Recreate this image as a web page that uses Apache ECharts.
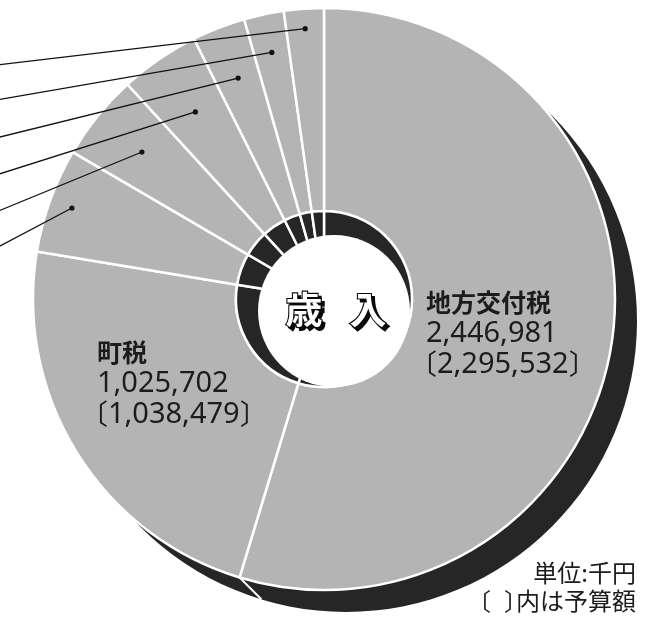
<!DOCTYPE html>
<html><head><meta charset="utf-8">
<script src="https://cdn.jsdelivr.net/npm/echarts@6/dist/echarts.min.js"></script>
<style>html,body{margin:0;padding:0;background:#fff}#c{width:653px;height:620px}</style>
</head><body><div id="c"></div>
<script>
// ---- data ----
const categories = ['地方交付税', '町税', '区分3', '区分4', '区分5', '区分6', '区分7', '区分8'];
const actualValues = [2446981, 1025702, 260000, 214000, 198000, 132000, 99000, 99000];
const budgetValues = [2295532, 1038479, null, null, null, null, null, null];
const centerTitle = ['歳', '入'];
const unitNote = '単位:千円';
const bracketNote = ['〔', '〕', '内は予算額'];

// ---- layout / style ----
const CX = 324, CY = 299, R = 291, R_IN = 88;
const HOLE = { cx: 334, cy: 311, r: 76 };
const SHADOW_OFF = [22, 22];
const labelPos = { 0: [409, 287], 1: [80, 337] };
const leaderDotR = [null, null, 268, 234, 227, 237, 252, 271];
const leaderEndY = [null, null, 248, 212, 175, 138, 100, 65];
const LEADER_END_X = -4;
const NOTE_RIGHT = 636, NOTE_FS = 24;
const GREY = '#b4b4b4', DARK = '#262626', INK = '#1c1c1c';
const CJK = '"Noto Sans CJK JP"';
const LATIN = '"Noto Sans", "Noto Sans CJK JP"';

const total = actualValues.reduce((a, b) => a + b, 0);
const cum = [];
actualValues.reduce((acc, v, i) => { cum[i] = acc; return acc + v; }, 0);
const fmt = v => (v == null ? '' : v.toLocaleString('en-US'));

const mainData = categories.map((name, i) => ({
  name, value: actualValues[i],
  label: { show: budgetValues[i] != null }
}));
const darkData = categories.map((name, i) => ({ name, value: actualValues[i] }));
const leaderData = [];
categories.forEach((n, i) => {
  if (leaderDotR[i] != null) leaderData.push([leaderDotR[i], cum[i] + actualValues[i] / 2, leaderEndY[i]]);
});
const edgeData = cum.map(c => [R, c]);

const titleStyle = {
  font: 'bold 37px ' + CJK, fill: '#fff', stroke: '#0a0a0a', lineWidth: 2.2,
  align: 'center', verticalAlign: 'middle',
  textShadowColor: '#0a0a0a', textShadowBlur: 0.6, textShadowOffsetX: 3, textShadowOffsetY: 3
};
// widths of the bracket-note tokens: open bracket, gap, close bracket, then the words
const NOTE_W = [NOTE_FS, 13, 12];
const noteLeft = NOTE_RIGHT - (NOTE_W[0] + NOTE_W[1] + NOTE_W[2] + bracketNote[2].length * NOTE_FS);

const chart = echarts.init(document.getElementById('c'), null, { renderer: 'canvas' });
chart.setOption({
  animation: false,
  backgroundColor: '#fff',
  polar: { center: [CX, CY], radius: R },
  angleAxis: { type: 'value', min: 0, max: total, startAngle: 90, clockwise: true, show: false,
    axisLine: { show: false }, axisTick: { show: false }, axisLabel: { show: false }, splitLine: { show: false } },
  radiusAxis: { type: 'value', min: 0, max: R, show: false,
    axisLine: { show: false }, axisTick: { show: false }, axisLabel: { show: false }, splitLine: { show: false } },
  series: [
    { // drop shadow (extrusion)
      type: 'pie', z: 1, silent: true, center: [CX + SHADOW_OFF[0], CY + SHADOW_OFF[1]], radius: [0, R],
      data: [{ value: 1 }], label: { show: false }, labelLine: { show: false },
      itemStyle: { color: DARK }, emphasis: { disabled: true }
    },
    { // extrusion side edges
      type: 'custom', coordinateSystem: 'polar', z: 2, silent: true, data: edgeData,
      renderItem: function (params, api) {
        const p = api.coord([api.value(0), api.value(1)]);
        return { type: 'line', shape: { x1: p[0], y1: p[1], x2: p[0] + SHADOW_OFF[0], y2: p[1] + SHADOW_OFF[1] },
          style: { stroke: '#fff', lineWidth: 2 } };
      }
    },
    { // main ring
      type: 'pie', z: 3, silent: true, center: [CX, CY], radius: [R_IN, R],
      startAngle: 90, clockwise: true, avoidLabelOverlap: false,
      data: mainData,
      itemStyle: { color: GREY, borderColor: '#fff', borderWidth: 2.5 },
      emphasis: { disabled: true },
      labelLine: { show: false },
      label: {
        position: 'inside', color: INK,
        formatter: p => budgetValues[p.dataIndex] == null ? '' :
          '{sp| }{n|' + p.name + '}\n{sp| }{v|' + fmt(p.value) + '}\n{b|〔}{v|' + fmt(budgetValues[p.dataIndex]) + '}{b|〕}',
        rich: {
          sp: { fontSize: 28, width: 17, lineHeight: 31 },
          n: { fontSize: 25, fontWeight: 'bold', fontFamily: CJK, color: INK, lineHeight: 31 },
          v: { fontSize: 29, fontFamily: LATIN, color: INK, lineHeight: 31 },
          b: { fontSize: 28, fontFamily: CJK, color: INK, lineHeight: 31 }
        }
      },
      labelLayout: function (params) {
        const pos = labelPos[params.dataIndex];
        if (!pos) return {};
        return { x: pos[0], y: pos[1], align: 'left', verticalAlign: 'top' };
      }
    },
    { // inner dark ring
      type: 'pie', z: 4, silent: true, center: [CX, CY], radius: [50, R_IN],
      startAngle: 90, clockwise: true, data: darkData,
      label: { show: false }, labelLine: { show: false }, emphasis: { disabled: true },
      itemStyle: { color: DARK, borderColor: '#fff', borderWidth: 2.5 }
    },
    { // white hole
      type: 'pie', z: 5, silent: true, center: [HOLE.cx, HOLE.cy], radius: [0, HOLE.r],
      data: [{ value: 1 }], label: { show: false }, labelLine: { show: false }, emphasis: { disabled: true },
      itemStyle: { color: '#fff' }
    },
    { // leader lines with dots
      type: 'custom', coordinateSystem: 'polar', z: 6, silent: true, data: leaderData,
      renderItem: function (params, api) {
        const p = api.coord([api.value(0), api.value(1)]);
        return { type: 'group', children: [
          { type: 'line', shape: { x1: p[0], y1: p[1], x2: LEADER_END_X, y2: api.value(2) },
            style: { stroke: '#111', lineWidth: 1.3 } },
          { type: 'circle', shape: { cx: p[0], cy: p[1], r: 2.6 }, style: { fill: '#111' } }
        ] };
      }
    }
  ],
  graphic: [
    { type: 'text', x: 304, y: 310, z: 100, style: Object.assign({ text: centerTitle[0] }, titleStyle) },
    { type: 'text', x: 368, y: 310, z: 100, style: Object.assign({ text: centerTitle[1] }, titleStyle) },
    { type: 'text', x: NOTE_RIGHT, y: 573, z: 100, style: { text: unitNote, font: NOTE_FS + 'px ' + CJK,
      fill: INK, align: 'right', verticalAlign: 'middle' } },
    { type: 'text', x: noteLeft, y: 601, z: 100, style: {
      text: '{o|' + bracketNote[0] + '}{s| }{c|' + bracketNote[1] + '}{w|' + bracketNote[2] + '}',
      font: NOTE_FS + 'px ' + CJK, fill: INK, align: 'left', verticalAlign: 'middle',
      rich: {
        o: { fontSize: NOTE_FS, fontFamily: CJK, fill: INK, width: NOTE_W[0], align: 'left' },
        s: { fontSize: NOTE_FS, width: NOTE_W[1], align: 'left' },
        c: { fontSize: NOTE_FS, fontFamily: CJK, fill: INK, width: NOTE_W[2], align: 'left' },
        w: { fontSize: NOTE_FS, fontFamily: CJK, fill: INK, align: 'left' }
      } } }
  ]
});
</script></body></html>
